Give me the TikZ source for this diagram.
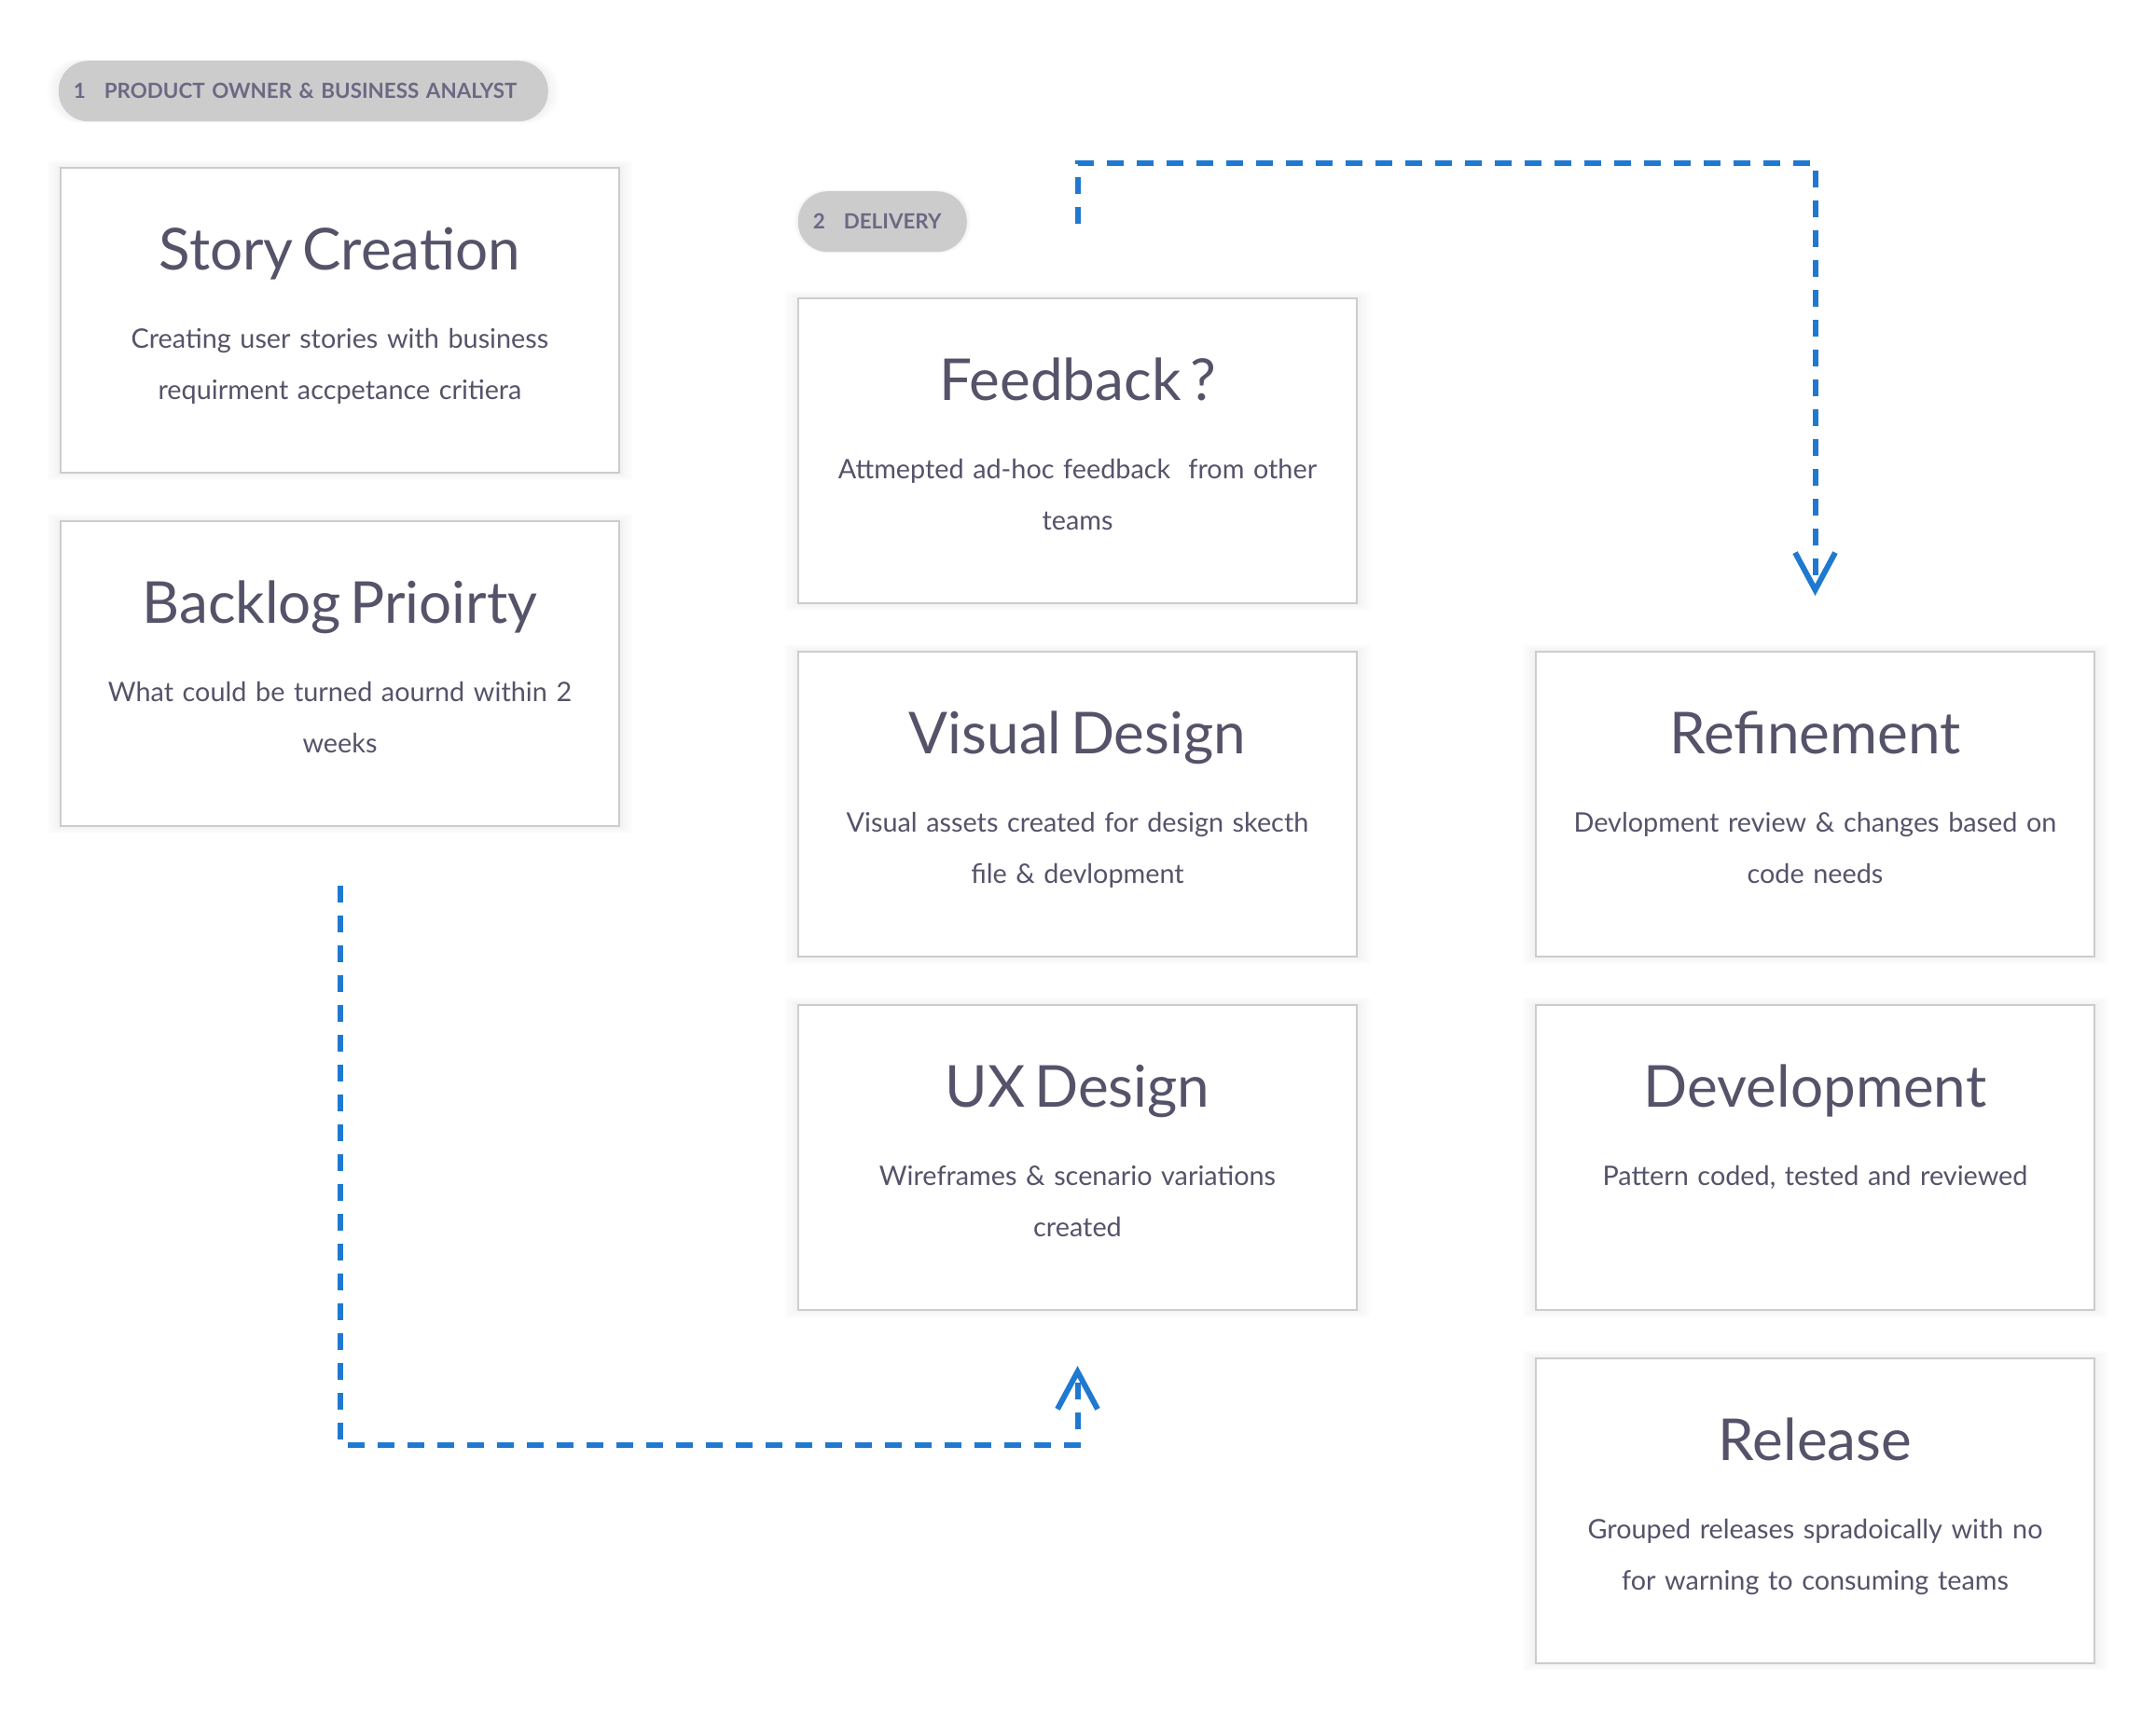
\documentclass[tikz,border=0pt]{standalone}
\usepackage{fontspec}
\setmainfont{Lato}
\usepackage{tikz}
\usetikzlibrary{arrows.meta,positioning,shadows}
\definecolor{inktext}{RGB}{85,83,105}
\definecolor{pilltext}{RGB}{108,104,132}
\definecolor{pillgrey}{RGB}{204,204,204}
\definecolor{flowblue}{RGB}{32,121,208}

\begin{document}
\begin{tikzpicture}[node distance=12.5pt and 47.5pt,
softshade/.style={general shadow={fill=black,opacity=.012,shadow scale=1.048},general shadow={fill=black,opacity=.012,shadow scale=1.036},
general shadow={fill=black,opacity=.012,shadow scale=1.024},general shadow={fill=black,opacity=.012,shadow scale=1.012}},
card/.style={draw=black!20,line width=0.5pt,fill=white,softshade,text width=149.75pt,inner sep=0pt,align=center,
text height=27.25pt,text depth=54.5pt,text=inktext,font=\fontsize{7.2}{13.75}\selectfont},
pill/.style={fill=pillgrey,rounded corners=8pt,minimum height=16.25pt,inner xsep=4pt,inner ysep=0pt,align=left,
softshade,text=pilltext,font=\bfseries\fontsize{5.6}{6}\selectfont},
flow/.style={draw=flowblue,line width=1.5pt,dash pattern=on 4.5pt off 3.5pt,-{Straight Barb[length=10pt,width=10.75pt]}}]
\useasboundingbox (0,0) rectangle (578pt,-461.5pt);
% product owner column
\node[card,anchor=north west] (story) at (16pt,-44.75pt) {{\fontsize{15.5}{18}\selectfont Story Creation}\\[7.25pt]
Creating user stories with business\\requirment accpetance critiera};
\node[card,below=of story] (backlog) {{\fontsize{15.5}{18}\selectfont Backlog Prioirty}\\[7.25pt]
What could be turned aournd within 2\\weeks};
\node[pill,text width=123.25pt,above=12pt of story.north west,anchor=south west,xshift=-0.5pt] (po) {1\hspace{5pt}PRODUCT OWNER \& BUSINESS ANALYST};
% delivery columns
\node[card,below right=35pt and 47.5pt of story.north east] (feedback) {{\fontsize{15.5}{18}\selectfont Feedback ?}\\[7.25pt]
Attmepted ad-hoc feedback\ \ from other\\teams};
\node[card,below=of feedback] (visual) {{\fontsize{15.5}{18}\selectfont Visual Design}\\[7.25pt]
Visual assets created for design skecth\\file \& devlopment};
\node[card,below=of visual] (ux) {{\fontsize{15.5}{18}\selectfont UX Design}\\[7.25pt]
Wireframes \& scenario variations\\created};
\node[pill,text width=37.25pt,above=12pt of feedback.north west,anchor=south west] (delivery) {2\hspace{5pt}DELIVERY};
\node[card,right=of visual] (refine) {{\fontsize{15.5}{18}\selectfont Refinement}\\[7.25pt]
Devlopment review \& changes based on\\code needs};
\node[card,below=of refine] (dev) {{\fontsize{15.5}{18}\selectfont Development}\\[7.25pt]
Pattern coded, tested and reviewed};
\node[card,below=of dev] (release) {{\fontsize{15.5}{18}\selectfont Release}\\[7.25pt]
Grouped releases spradoically with no\\for warning to consuming teams};
% loops
\coordinate[above=19.75pt of feedback.north] (fbout);
\coordinate[above=14.75pt of refine.north] (refin);
\coordinate[below=15.75pt of backlog.south] (blout);
\coordinate[below=14.75pt of ux.south] (uxin);
\draw[flow] (fbout)--++(0,16.25pt)-|(refin);
\draw[flow] (blout)--++(0,-150pt)-|(uxin);
\end{tikzpicture}
\end{document}
